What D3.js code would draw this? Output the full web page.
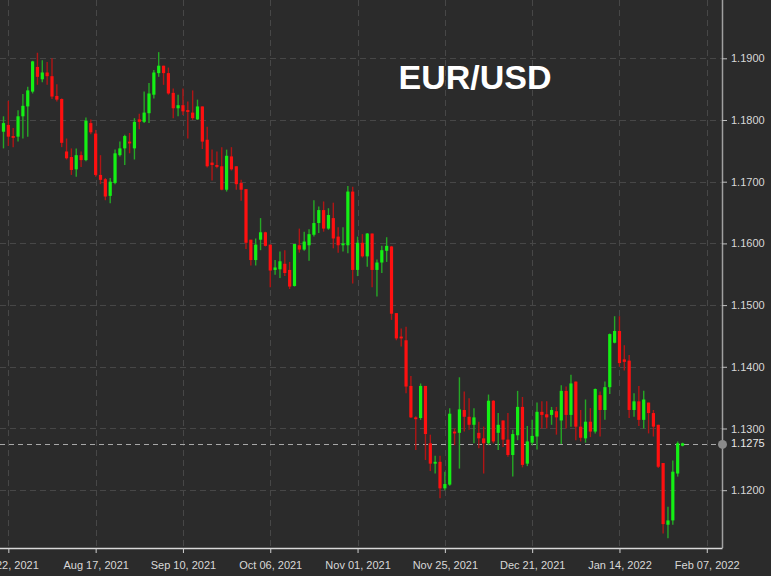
<!DOCTYPE html>
<html><head><meta charset="utf-8">
<script src="https://cdn.jsdelivr.net/npm/d3@7"></script>
<style>html,body{margin:0;padding:0;background:#2b2b2b;}svg{display:block;}</style>
</head><body>
<svg id="c" width="771" height="576"></svg>
<script>
// ---- data (EUR/USD daily candles) ----
const open = [
1.1781,1.1792,1.1774,1.1773,1.1806,1.1822,1.1846,1.1886,1.1866,1.1877,
1.1871,1.1839,1.1834,1.1749,1.1740,1.1720,1.1743,1.1735,1.1795,1.1778,
1.1711,1.1704,1.1677,1.1698,1.1743,1.1754,1.1765,1.1754,1.1801,1.1797,
1.1811,1.1841,1.1876,1.1888,1.1876,1.1844,1.1819,1.1824,1.1816,1.1812,
1.1801,1.1822,1.1768,1.1731,1.1727,1.1725,1.1687,1.1741,1.1725,1.1698,
1.1688,1.1606,1.1573,1.1606,1.1618,1.1598,1.1557,1.1558,1.1567,1.1557,
1.1531,1.1597,1.1590,1.1597,1.1614,1.1633,1.1654,1.1624,1.1641,1.1611,
1.1597,1.1597,1.1684,1.1557,1.1601,1.1579,1.1616,1.1557,1.1569,1.1588,
1.1595,1.1487,1.1449,1.1443,1.1369,1.1318,1.1317,1.1369,1.1276,1.1243,
1.1246,1.1203,1.1209,1.1295,1.1293,1.1330,1.1319,1.1306,1.1293,1.1284,
1.1276,1.1345,1.1293,1.1313,1.1282,1.1257,1.1289,1.1335,1.1243,1.1277,
1.1287,1.1327,1.1323,1.1322,1.1328,1.1313,1.1361,1.1322,1.1376,1.1303,
1.1284,1.1311,1.1295,1.1354,1.1330,1.1367,1.1439,1.1458,1.1412,1.1410,
1.1330,1.1344,1.1314,1.1342,1.1325,1.1306,1.1244,1.1144,1.1151,1.1227,
1.1272];
const high = [
1.1806,1.1831,1.1787,1.1816,1.1842,1.1854,1.1896,1.1909,1.1897,1.1894,
1.1900,1.1858,1.1835,1.1770,1.1754,1.1754,1.1749,1.1804,1.1801,1.1784,
1.1743,1.1706,1.1706,1.1752,1.1765,1.1776,1.1779,1.1803,1.1810,1.1846,
1.1860,1.1881,1.1910,1.1888,1.1885,1.1851,1.1841,1.1851,1.1830,1.1848,
1.1833,1.1822,1.1789,1.1752,1.1749,1.1756,1.1752,1.1756,1.1725,1.1703,
1.1688,1.1606,1.1608,1.1641,1.1619,1.1598,1.1573,1.1587,1.1589,1.1570,
1.1599,1.1624,1.1619,1.1623,1.1670,1.1660,1.1668,1.1657,1.1666,1.1626,
1.1626,1.1693,1.1692,1.1611,1.1615,1.1617,1.1616,1.1574,1.1596,1.1610,
1.1596,1.1487,1.1462,1.1465,1.1385,1.1320,1.1373,1.1369,1.1290,1.1256,
1.1256,1.1230,1.1333,1.1300,1.1383,1.1360,1.1349,1.1333,1.1311,1.1303,
1.1355,1.1346,1.1325,1.1313,1.1325,1.1298,1.1361,1.1351,1.1304,1.1314,
1.1342,1.1344,1.1344,1.1335,1.1335,1.1370,1.1368,1.1387,1.1376,1.1330,
1.1347,1.1333,1.1365,1.1360,1.1376,1.1454,1.1482,1.1482,1.1435,1.1419,
1.1357,1.1369,1.1361,1.1342,1.1330,1.1306,1.1244,1.1173,1.1248,1.1279,
1.1277];
const low = [
1.1754,1.1758,1.1756,1.1765,1.1770,1.1773,1.1843,1.1857,1.1861,1.1857,
1.1834,1.1830,1.1756,1.1736,1.1711,1.1708,1.1724,1.1733,1.1777,1.1708,
1.1696,1.1670,1.1665,1.1696,1.1741,1.1727,1.1746,1.1736,1.1785,1.1795,
1.1795,1.1835,1.1870,1.1857,1.1841,1.1803,1.1806,1.1808,1.1770,1.1800,
1.1800,1.1753,1.1723,1.1702,1.1722,1.1686,1.1684,1.1718,1.1687,1.1669,
1.1591,1.1564,1.1564,1.1589,1.1595,1.1529,1.1549,1.1544,1.1547,1.1526,
1.1530,1.1585,1.1588,1.1572,1.1611,1.1617,1.1619,1.1622,1.1592,1.1585,
1.1587,1.1584,1.1535,1.1547,1.1577,1.1562,1.1529,1.1514,1.1552,1.1570,
1.1476,1.1443,1.1433,1.1357,1.1317,1.1265,1.1314,1.1249,1.1231,1.1227,
1.1187,1.1200,1.1207,1.1273,1.1235,1.1295,1.1298,1.1276,1.1268,1.1227,
1.1273,1.1276,1.1265,1.1270,1.1254,1.1222,1.1281,1.1237,1.1239,1.1273,
1.1266,1.1300,1.1300,1.1306,1.1290,1.1275,1.1300,1.1303,1.1281,1.1279,
1.1277,1.1286,1.1292,1.1287,1.1314,1.1356,1.1438,1.1400,1.1394,1.1317,
1.1319,1.1304,1.1300,1.1292,1.1287,1.1236,1.1130,1.1122,1.1144,1.1222,
1.1271];
const close = [
1.1795,1.1773,1.1772,1.1806,1.1823,1.1848,1.1895,1.1870,1.1877,1.1871,
1.1838,1.1833,1.1763,1.1738,1.1719,1.1743,1.1735,1.1799,1.1780,1.1711,
1.1703,1.1676,1.1700,1.1746,1.1754,1.1774,1.1762,1.1797,1.1797,1.1812,
1.1843,1.1877,1.1888,1.1876,1.1843,1.1819,1.1824,1.1814,1.1814,1.1803,
1.1822,1.1765,1.1725,1.1727,1.1725,1.1687,1.1742,1.1720,1.1696,1.1687,
1.1601,1.1573,1.1598,1.1618,1.1596,1.1556,1.1561,1.1571,1.1552,1.1530,
1.1599,1.1590,1.1603,1.1615,1.1633,1.1654,1.1624,1.1646,1.1608,1.1597,
1.1600,1.1684,1.1557,1.1601,1.1579,1.1616,1.1557,1.1569,1.1589,1.1596,
1.1486,1.1446,1.1446,1.1368,1.1318,1.1316,1.1369,1.1291,1.1243,1.1246,
1.1203,1.1210,1.1324,1.1292,1.1331,1.1319,1.1306,1.1318,1.1284,1.1276,
1.1345,1.1279,1.1306,1.1282,1.1257,1.1291,1.1335,1.1241,1.1279,1.1288,
1.1327,1.1322,1.1318,1.1330,1.1318,1.1361,1.1322,1.1373,1.1303,1.1285,
1.1311,1.1295,1.1364,1.1330,1.1367,1.1453,1.1458,1.1406,1.1408,1.1330,
1.1344,1.1314,1.1347,1.1325,1.1303,1.1238,1.1145,1.1151,1.1230,1.1276,
1.1276];
const tickIndex  = [1,19,37,55,73,91,109,127,145];
const tickLabels = ["Jul 22, 2021","Aug 17, 2021","Sep 10, 2021","Oct 06, 2021","Nov 01, 2021",
                    "Nov 25, 2021","Dec 21, 2021","Jan 14, 2022","Feb 07, 2022"];
const yTicks = [1.12,1.13,1.14,1.15,1.16,1.17,1.18,1.19];
const lastPrice = 1.1275;
const title = "EUR/USD";

// ---- drawing ----
const W = 771, H = 576, plotR = 722, plotB = 548;
const svg = d3.select("#c");
svg.append("rect").attr("width",W).attr("height",H).attr("fill","#2b2b2b");

const x = d3.scaleLinear().domain([-0.72, 148.14]).range([0, plotR]);
const y = d3.scaleLinear().domain([1.11063, 1.19945]).range([plotB, 0]);

const grid = svg.append("g").attr("stroke","#474747").attr("stroke-width",1).attr("stroke-dasharray","6,4");
grid.selectAll("line.h").data(yTicks).join("line")
  .attr("x1",0).attr("x2",plotR).attr("y1",d=>Math.round(y(d))+0.5).attr("y2",d=>Math.round(y(d))+0.5);
grid.selectAll("line.v").data(tickIndex).join("line")
  .attr("y1",0).attr("y2",plotB).attr("x1",d=>Math.round(x(d))+0.5).attr("x2",d=>Math.round(x(d))+0.5);

// current price line
svg.append("line").attr("x1",0).attr("x2",plotR)
  .attr("y1",Math.round(y(lastPrice))+0.5).attr("y2",Math.round(y(lastPrice))+0.5)
  .attr("stroke","#a8a8a8").attr("stroke-width",1).attr("stroke-dasharray","5,4");

const idx = d3.range(open.length);
const up = i => close[i] >= open[i];
const cg = svg.append("g");
cg.selectAll("line.w").data(idx).join("line")
  .attr("x1",i=>x(i)).attr("x2",i=>x(i))
  .attr("y1",i=>y(high[i])).attr("y2",i=>y(low[i]))
  .attr("stroke",i=>up(i)?"#25a825":"#b01515").attr("stroke-width",1.4);
cg.selectAll("rect.b").data(idx).join("rect")
  .attr("x",i=>x(i)-1.6).attr("width",3.2)
  .attr("y",i=>Math.min(y(open[i]),y(close[i])))
  .attr("height",i=>Math.max(1.8,Math.abs(y(open[i])-y(close[i]))))
  .attr("fill",i=>up(i)?"#14f014":"#ff1010");

// axes
const font = "'Liberation Sans', Arial, sans-serif";
const ya = svg.append("g").attr("transform",`translate(${plotR},0)`)
  .call(d3.axisRight(y).tickValues(yTicks).tickFormat(d3.format(".4f")).tickSize(5).tickSizeOuter(0).tickPadding(4));
ya.select(".domain").attr("stroke","#a0a0a0").attr("stroke-width",1.5).attr("d",`M0.5,0V${plotB}`);
ya.selectAll(".tick line").attr("stroke","#c0c0c0");
ya.selectAll("text").attr("fill","#d8d8d8").style("font-family",font).style("font-size","11px");

const xa = svg.append("g").attr("transform",`translate(0,${plotB})`)
  .call(d3.axisBottom(x).tickValues(tickIndex).tickFormat((d,i)=>tickLabels[i]).tickSize(5).tickSizeOuter(0).tickPadding(8));
xa.select(".domain").attr("stroke","#d8d8d8").attr("stroke-width",1.5).attr("d",`M0,0.5H${plotR+0.5}`);
xa.selectAll(".tick line").attr("stroke","#d0d0d0");
xa.selectAll("text").attr("fill","#d8d8d8").style("font-family",font).style("font-size","11px");

// last price marker
svg.append("circle").attr("cx",plotR+0.5).attr("cy",y(lastPrice)+0.5).attr("r",4.5).attr("fill","#8a8a8a");
svg.append("text").attr("x",plotR+9).attr("y",y(lastPrice)).attr("dy","0.32em")
  .attr("fill","#e8e8e8").style("font-family",font).style("font-size","11px")
  .text(d3.format(".4f")(lastPrice));

// title
svg.append("text").attr("x",475).attr("y",89).attr("text-anchor","middle")
  .attr("fill","#ffffff").style("font-family",font).style("font-weight","bold").style("font-size","34px")
  .text(title);
</script>
</body></html>
